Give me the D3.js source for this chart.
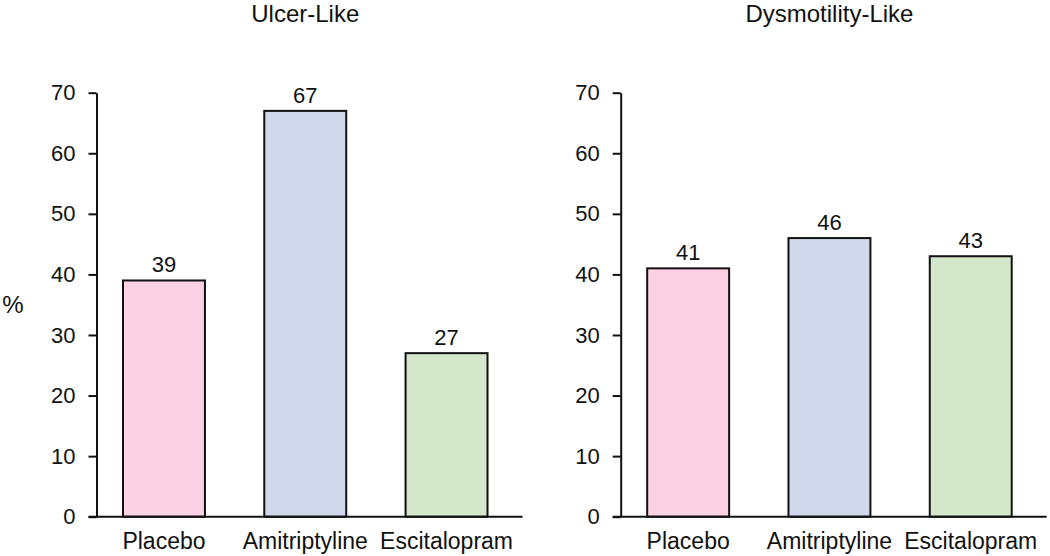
<!DOCTYPE html>
<html>
<head>
<meta charset="utf-8">
<script src="https://cdn.jsdelivr.net/npm/d3@7"></script>
<style>
  html, body { margin: 0; padding: 0; background: #fff; }
  svg { display: block; font-family: "Liberation Sans", Arial, sans-serif; }
</style>
</head>
<body>
<svg id="chart" width="1050" height="556"></svg>
<script>
const categories = ["Placebo", "Amitriptyline", "Escitalopram"];
const panelTitles = ["Ulcer-Like", "Dysmotility-Like"];
const ulcerValues = [39, 67, 27];
const dysmotilityValues = [41, 46, 43];
const yTicks = [0, 10, 20, 30, 40, 50, 60, 70];
const barColors = ["#fdd1e4", "#d0d9ec", "#d5e7cb"];
const yLabel = "%";

const FONT = "'Liberation Sans', Arial, sans-serif";
const svg = d3.select("#chart");
const yTop = 92.7, yBottom = 516.7;
const y = d3.scaleLinear().domain([0, 70]).range([yBottom, yTop]);

const panels = [
  { title: panelTitles[0], values: ulcerValues, axisX: 96.5 },
  { title: panelTitles[1], values: dysmotilityValues, axisX: 620.7 }
];

panels.forEach(p => {
  const g = svg.append("g");
  const x = d3.scaleBand()
    .domain(categories)
    .range([p.axisX, p.axisX + 417.5])
    .paddingInner(0.42)
    .paddingOuter(0.1875);

  // bars
  g.selectAll("rect.bar")
    .data(categories.map((c, i) => ({ c, v: p.values[i], i })))
    .join("rect")
    .attr("class", "bar")
    .attr("x", d => x(d.c))
    .attr("y", d => y(d.v))
    .attr("width", x.bandwidth())
    .attr("height", d => y(0) - y(d.v))
    .attr("fill", d => barColors[d.i])
    .attr("stroke", "#111")
    .attr("stroke-width", 2);

  // value labels
  g.selectAll("text.val")
    .data(categories.map((c, i) => ({ c, v: p.values[i] })))
    .join("text")
    .attr("class", "val")
    .attr("x", d => x(d.c) + x.bandwidth() / 2)
    .attr("y", d => y(d.v) - 8)
    .attr("text-anchor", "middle")
    .attr("font-size", 22)
    .attr("fill", "#111")
    .text(d => d.v);

  // y axis
  const yAxis = d3.axisLeft(y).tickValues(yTicks).tickSize(8).tickPadding(13).tickSizeOuter(0);
  const ya = g.append("g").attr("transform", `translate(${p.axisX},0)`).call(yAxis);
  ya.attr("font-family", FONT).attr("font-size", 22);
  ya.select(".domain").attr("stroke", "#111").attr("stroke-width", 2);
  ya.selectAll(".tick line").attr("stroke", "#111").attr("stroke-width", 2);
  ya.selectAll(".tick text").attr("fill", "#111");

  // baseline (x axis)
  g.append("line")
    .attr("x1", p.axisX - 8).attr("x2", p.axisX + 426)
    .attr("y1", y(0)).attr("y2", y(0))
    .attr("stroke", "#111").attr("stroke-width", 2);

  // category labels
  const xAxis = d3.axisBottom(x).tickSize(0).tickPadding(16);
  const xa = g.append("g").attr("transform", `translate(0,${y(0)})`).call(xAxis);
  xa.attr("font-family", FONT).attr("font-size", 23);
  xa.select(".domain").remove();
  xa.selectAll(".tick text").attr("fill", "#111");

  // title
  g.append("text")
    .attr("x", x(categories[1]) + x.bandwidth() / 2)
    .attr("y", 22)
    .attr("text-anchor", "middle")
    .attr("font-size", 24)
    .attr("fill", "#111")
    .text(p.title);
});

svg.append("text")
  .attr("x", 13).attr("y", 313)
  .attr("text-anchor", "middle")
  .attr("font-size", 24)
  .attr("fill", "#111")
  .text(yLabel);
</script>
</body>
</html>
